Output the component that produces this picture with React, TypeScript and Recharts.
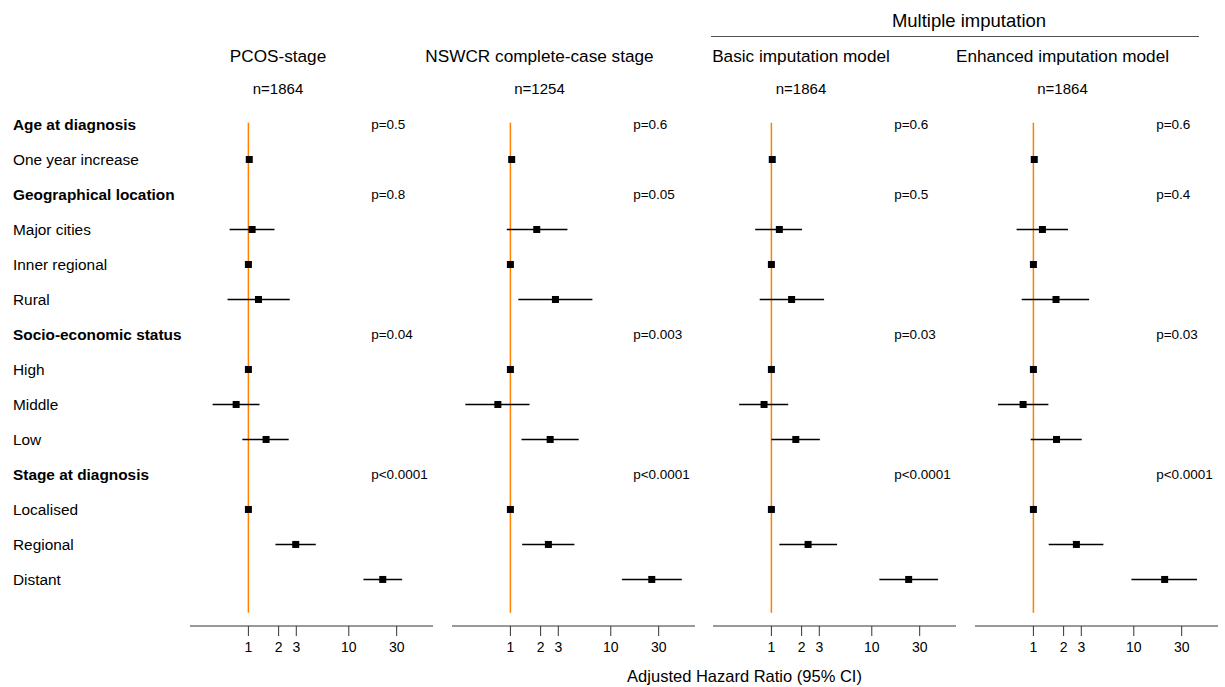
import { ErrorBar, ReferenceLine, Scatter, ScatterChart, XAxis, YAxis } from "recharts";

const rowLabels = [
  "Age at diagnosis",
  "One year increase",
  "Geographical location",
  "Major cities",
  "Inner regional",
  "Rural",
  "Socio-economic status",
  "High",
  "Middle",
  "Low",
  "Stage at diagnosis",
  "Localised",
  "Regional",
  "Distant",
];
const headerRows = [0, 2, 6, 10];
const itemRows = [1, 3, 4, 5, 7, 8, 9, 11, 12, 13];
const hrTicks = [1, 2, 3, 10, 30];

const panelTitles = [
  "PCOS-stage",
  "NSWCR complete-case stage",
  "Basic imputation model",
  "Enhanced imputation model",
];
const panelN = ["n=1864", "n=1254", "n=1864", "n=1864"];

// PCOS-stage
const pcosHr = [1.02, 1.09, 1, 1.26, 1, 0.755, 1.5, 1, 2.96, 21.8];
const pcosLo = [1.01, 0.65, 1, 0.62, 1, 0.44, 0.87, 1, 1.86, 14.0];
const pcosHi = [1.03, 1.82, 1, 2.58, 1, 1.29, 2.52, 1, 4.69, 34];
const pcosP = ["p=0.5", "p=0.8", "p=0.04", "p<0.0001"];

// NSWCR complete-case
const nswcrHr = [1.03, 1.83, 1, 2.81, 1, 0.75, 2.49, 1, 2.39, 25.6];
const nswcrLo = [1.02, 0.92, 1, 1.2, 1, 0.356, 1.29, 1, 1.31, 12.9];
const nswcrHi = [1.04, 3.7, 1, 6.56, 1, 1.55, 4.79, 1, 4.34, 51];
const nswcrP = ["p=0.6", "p=0.05", "p=0.003", "p<0.0001"];

// basic imputation
const basicHr = [1.02, 1.2, 1, 1.59, 1, 0.845, 1.75, 1, 2.32, 23.3];
const basicLo = [1.01, 0.69, 1, 0.765, 1, 0.477, 1.0, 1, 1.2, 11.9];
const basicHi = [1.03, 2.02, 1, 3.35, 1, 1.47, 3.04, 1, 4.51, 45.7];
const basicP = ["p=0.6", "p=0.5", "p=0.03", "p<0.0001"];

// enhanced imputation
const enhHr = [1.02, 1.23, 1, 1.68, 1, 0.79, 1.7, 1, 2.68, 20.3];
const enhLo = [1.01, 0.68, 1, 0.765, 1, 0.444, 0.94, 1, 1.42, 9.47];
const enhHi = [1.03, 2.21, 1, 3.59, 1, 1.41, 3.03, 1, 4.98, 42.6];
const enhP = ["p=0.6", "p=0.4", "p=0.03", "p<0.0001"];

const FONT = '"Liberation Sans", Arial, sans-serif';
const ORANGE = "#FF8000";
const PLOT_W = 243;
const LABEL_W = 190;
const PANEL_LEFT = [190, 451.5, 713, 974.5];
const P_TEXT_X = 16.7;

const panels = [
  { hr: pcosHr, lo: pcosLo, hi: pcosHi, p: pcosP },
  { hr: nswcrHr, lo: nswcrLo, hi: nswcrHi, p: nswcrP },
  { hr: basicHr, lo: basicLo, hi: basicHi, p: basicP },
  { hr: enhHr, lo: enhLo, hi: enhHi, p: enhP },
];

function RowTick(props: any) {
  const { y, payload } = props;
  const bold = headerRows.includes(payload.value);
  return (
    <text x={13} y={y} dy="0.35em" fontSize={15.4} fontWeight={bold ? 700 : 400} fill="#000" fontFamily={FONT}>
      {rowLabels[payload.value]}
    </text>
  );
}

function Square(props: any) {
  const { cx, cy } = props;
  return <rect x={cx - 3.5} y={cy - 3.5} width={7} height={7} fill="#000" />;
}

function PText(props: any) {
  const { cx, cy } = props;
  const text = props.payload?.ptext ?? props.ptext;
  return (
    <text x={cx} y={cy} dy="0.35em" fontSize={13.5} fill="#000" fontFamily={FONT}>
      {text}
    </text>
  );
}

function Panel({ index }: { index: number }) {
  const panel = panels[index];
  const first = index === 0;
  const points = itemRows.map((row, i) => ({
    x: panel.hr[i],
    y: row,
    err: [panel.hr[i] - panel.lo[i], panel.hi[i] - panel.hr[i]],
  }));
  const pPoints = headerRows.map((row, i) => ({ x: P_TEXT_X, y: row, ptext: panel.p[i] }));
  const width = first ? LABEL_W + PLOT_W : PLOT_W;
  const left = first ? 0 : PANEL_LEFT[index];

  return (
    <div style={{ position: "absolute", left, top: 0 }}>
      <ScatterChart width={width} height={687} margin={{ top: 107, right: 0, bottom: 0, left: 0 }}>
        <XAxis
          type="number"
          dataKey="x"
          scale="log"
          domain={[0.262, 69]}
          allowDataOverflow
          ticks={hrTicks}
          interval={0}
          height={61}
          tickSize={10}
          tickMargin={6}
          stroke="#333"
          tick={{ fill: "#000", fontSize: 14, fontFamily: FONT }}
        />
        <YAxis
          type="number"
          dataKey="y"
          domain={[-0.5, 14.33]}
          reversed
          hide={!first}
          ticks={rowLabels.map((_, i) => i)}
          interval={0}
          width={LABEL_W}
          axisLine={false}
          tickLine={false}
          tick={RowTick}
        />
        <ReferenceLine
          segment={[
            { x: 1, y: -0.05 },
            { x: 1, y: 13.95 },
          ]}
          stroke={ORANGE}
          strokeWidth={1.5}
        />
        <Scatter data={points} shape={Square} isAnimationActive={false}>
          <ErrorBar dataKey="err" direction="x" width={0} stroke="#000" strokeWidth={1.5} />
        </Scatter>
        <Scatter data={pPoints} shape={PText} isAnimationActive={false} />
      </ScatterChart>
    </div>
  );
}

export default function App() {
  return (
    <div style={{ position: "absolute", left: 0, top: 0, width: 1225, height: 687, background: "#fff", fontFamily: FONT }}>
      {panels.map((_, i) => (
        <Panel key={i} index={i} />
      ))}
      <svg width={1225} height={687} style={{ position: "absolute", left: 0, top: 0, pointerEvents: "none" }}>
        <text x={969} y={26.5} textAnchor="middle" fontSize={18.5} fill="#000" fontFamily={FONT}>
          Multiple imputation
        </text>
        <line x1={711} x2={1199} y1={36.5} y2={36.5} stroke="#555" strokeWidth={1} />
        {panelTitles.map((t, i) => (
          <text key={t} x={PANEL_LEFT[i] + 88} y={61.5} textAnchor="middle" fontSize={17.2} fill="#000" fontFamily={FONT}>
            {t}
          </text>
        ))}
        {panelN.map((t, i) => (
          <text key={i} x={PANEL_LEFT[i] + 88} y={94.3} textAnchor="middle" fontSize={15} fill="#000" fontFamily={FONT}>
            {t}
          </text>
        ))}
        <text x={744.5} y={682} textAnchor="middle" fontSize={16.5} fill="#000" fontFamily={FONT}>
          Adjusted Hazard Ratio (95% CI)
        </text>
      </svg>
    </div>
  );
}
